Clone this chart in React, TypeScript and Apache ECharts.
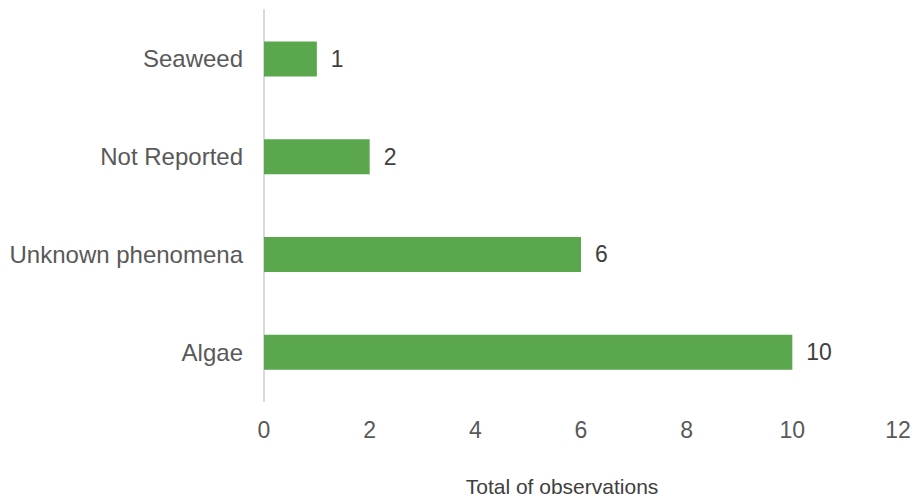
import React, { useEffect, useRef } from "react";
import * as echarts from "echarts";

const categories = ["Algae", "Unknown phenomena", "Not Reported", "Seaweed"];
const observations = [10, 6, 2, 1];
const axisTicks = [0, 2, 4, 6, 8, 10, 12];

export default function App() {
  const ref = useRef<HTMLDivElement>(null);

  useEffect(() => {
    if (!ref.current) return;
    const chart = echarts.init(ref.current, null, { renderer: "svg" });
    const font = "'Liberation Sans', Arial, sans-serif";
    chart.setOption({
      animation: false,
      backgroundColor: "#ffffff",
      grid: { left: 264, right: 17, top: 10, bottom: 96, containLabel: false },
      xAxis: {
        type: "value",
        min: axisTicks[0],
        max: axisTicks[axisTicks.length - 1],
        interval: 2,
        axisLine: { show: false },
        axisTick: { show: false },
        splitLine: { show: false },
        axisLabel: {
          color: "#595959",
          fontSize: 23,
          fontFamily: font,
          margin: 17,
        },
      },
      yAxis: {
        type: "category",
        data: categories,
        axisLine: { show: true, lineStyle: { color: "#d9d9d9", width: 2 } },
        axisTick: { show: false },
        axisLabel: {
          color: "#595959",
          fontSize: 24,
          fontFamily: font,
          margin: 21,
        },
      },
      series: [
        {
          type: "bar",
          data: observations,
          barWidth: 35,
          itemStyle: { color: "#5aa74d" },
          label: {
            show: true,
            position: "right",
            distance: 14,
            color: "#404040",
            fontSize: 23,
            fontFamily: font,
          },
        },
      ],
      graphic: [
        {
          type: "text",
          x: 562,
          y: 486,
          style: {
            text: "Total of observations",
            fill: "#404040",
            fontSize: 21,
            fontFamily: font,
            align: "center",
            verticalAlign: "middle",
          },
        },
      ],
    });
    return () => chart.dispose();
  }, []);

  return (
    <div
      ref={ref}
      style={{ position: "fixed", left: 0, top: 0, width: 915, height: 497 }}
    />
  );
}
